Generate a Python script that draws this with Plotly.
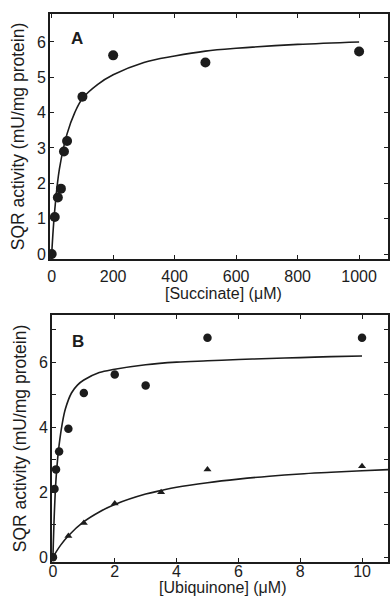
import plotly.graph_objects as go

# Panel A: succinate
succ_x = [0, 10, 20, 30, 40, 50, 100, 200, 500, 1000]
succ_y = [0, 1.05, 1.6, 1.85, 2.9, 3.2, 4.45, 5.62, 5.42, 5.73]
succ_fit_x = [0, 5, 10, 25, 50, 75, 100, 150, 200, 300, 400, 500, 600, 800, 1000]
succ_fit_y = [0, 0.7, 1.25, 2.4, 3.4, 4.0, 4.4, 4.8, 5.07, 5.42, 5.6, 5.74, 5.82, 5.93, 6.0]

# Panel B: ubiquinone
ubq_c_x = [0, 0.05, 0.1, 0.2, 0.5, 1, 2, 3, 5, 10]
ubq_c_y = [0, 2.1, 2.7, 3.25, 3.95, 5.05, 5.62, 5.28, 6.75, 6.75]
ubq_c_fit_x = [0, 0.05, 0.1, 0.15, 0.2, 0.3, 0.4, 0.6, 0.8, 1, 1.5, 2, 3, 4, 5, 6, 7, 8, 9, 10]
ubq_c_fit_y = [0, 1.45, 2.4, 3.0, 3.45, 4.1, 4.55, 5.05, 5.3, 5.45, 5.68, 5.78, 5.92, 6.0, 6.04, 6.08, 6.11, 6.14, 6.17, 6.19]

ubq_t_x = [0, 0.5, 1, 2, 3.5, 5, 10]
ubq_t_y = [0, 0.65, 1.05, 1.65, 2.0, 2.7, 2.8]
ubq_t_fit_x = [0, 0.25, 0.5, 1, 1.5, 2, 3, 3.5, 4, 5, 6, 7, 8, 9, 10, 11]
ubq_t_fit_y = [0, 0.37, 0.66, 1.09, 1.39, 1.62, 1.94, 2.05, 2.15, 2.29, 2.40, 2.49, 2.56, 2.61, 2.66, 2.70]

INK = "#1c1c1c"
FONT = "Liberation Sans, Arial, sans-serif"
W, H = 390, 598

fig = go.Figure()
fig.add_trace(go.Scatter(x=succ_fit_x, y=succ_fit_y, mode="lines", line=dict(color=INK, width=1.6, shape="spline"),
                         xaxis="x", yaxis="y", hoverinfo="skip"))
fig.add_trace(go.Scatter(x=succ_x, y=succ_y, mode="markers", marker=dict(color=INK, size=10, symbol="circle"),
                         xaxis="x", yaxis="y"))
fig.add_trace(go.Scatter(x=ubq_c_fit_x, y=ubq_c_fit_y, mode="lines", line=dict(color=INK, width=1.6, shape="spline"),
                         xaxis="x2", yaxis="y2", hoverinfo="skip"))
fig.add_trace(go.Scatter(x=ubq_t_fit_x, y=ubq_t_fit_y, mode="lines", line=dict(color=INK, width=1.6, shape="spline"),
                         xaxis="x2", yaxis="y2", hoverinfo="skip"))
fig.add_trace(go.Scatter(x=ubq_c_x, y=ubq_c_y, mode="markers", marker=dict(color=INK, size=8.5, symbol="circle"),
                         xaxis="x2", yaxis="y2"))
fig.add_trace(go.Scatter(x=ubq_t_x, y=ubq_t_y, mode="markers", marker=dict(color=INK, size=7, symbol="triangle-up"),
                         xaxis="x2", yaxis="y2"))

def ax(**kw):
    d = dict(showgrid=False, zeroline=False, showline=True, linecolor=INK, linewidth=1.6,
             mirror="ticks", ticks="inside", ticklen=4, tickcolor=INK, tickwidth=1,
             tickfont=dict(family=FONT, size=16, color=INK), automargin=False)
    d.update(kw)
    return d

XT = dict(family=FONT, size=16, color=INK)
YT = dict(family=FONT, size=17.5, color=INK)

fig.update_layout(
    width=W, height=H, margin=dict(l=0, r=0, t=0, b=0),
    paper_bgcolor="white", plot_bgcolor="white", showlegend=False,
    xaxis=ax(domain=[50 / W, 388 / W], range=[-5.5, 1094], tickvals=[0, 200, 400, 600, 800, 1000],
             anchor="y", ticklabelstandoff=2),
    yaxis=ax(domain=[1 - 259 / H, 1 - 14 / H], range=[-0.14, 6.79], tickvals=[0, 1, 2, 3, 4, 5, 6],
             anchor="x", ticklabelstandoff=-1,
             title=dict(text="SQR activity (mU/mg protein)", standoff=8, font=YT)),
    xaxis2=ax(domain=[52 / W, 388 / W], range=[-0.03, 10.84], tickvals=[0, 2, 4, 6, 8, 10],
              anchor="y2", ticklabelstandoff=-6),
    yaxis2=ax(domain=[1 - 562 / H, 1 - 315 / H], range=[-0.15, 7.45], tickvals=[0, 2, 4, 6],
              minor=dict(ticks="inside", ticklen=4, dtick=1, tick0=0, tickcolor=INK),
              anchor="x2", ticklabelstandoff=-1,
              title=dict(text="SQR activity (mU/mg protein)", standoff=8, font=YT)),
    annotations=[
        dict(text="<b>A</b>", x=82, y=6.1, xref="x", yref="y", showarrow=False,
             font=dict(family=FONT, size=17, color=INK)),
        dict(text="<b>B</b>", x=0.8, y=6.62, xref="x2", yref="y2", showarrow=False,
             font=dict(family=FONT, size=17, color=INK)),
        dict(text="[Succinate] (μM)", x=224 / W, y=1 - 293 / H, xref="paper", yref="paper",
             xanchor="center", yanchor="middle", showarrow=False, font=XT),
        dict(text="[Ubiquinone] (μM)", x=223 / W, y=1 - 587 / H, xref="paper", yref="paper",
             xanchor="center", yanchor="middle", showarrow=False, font=XT),
    ],
)

fig.write_html("out.html", config={"displayModeBar": False},
               post_script="document.body.style.margin='0';document.body.style.overflow='hidden';")
